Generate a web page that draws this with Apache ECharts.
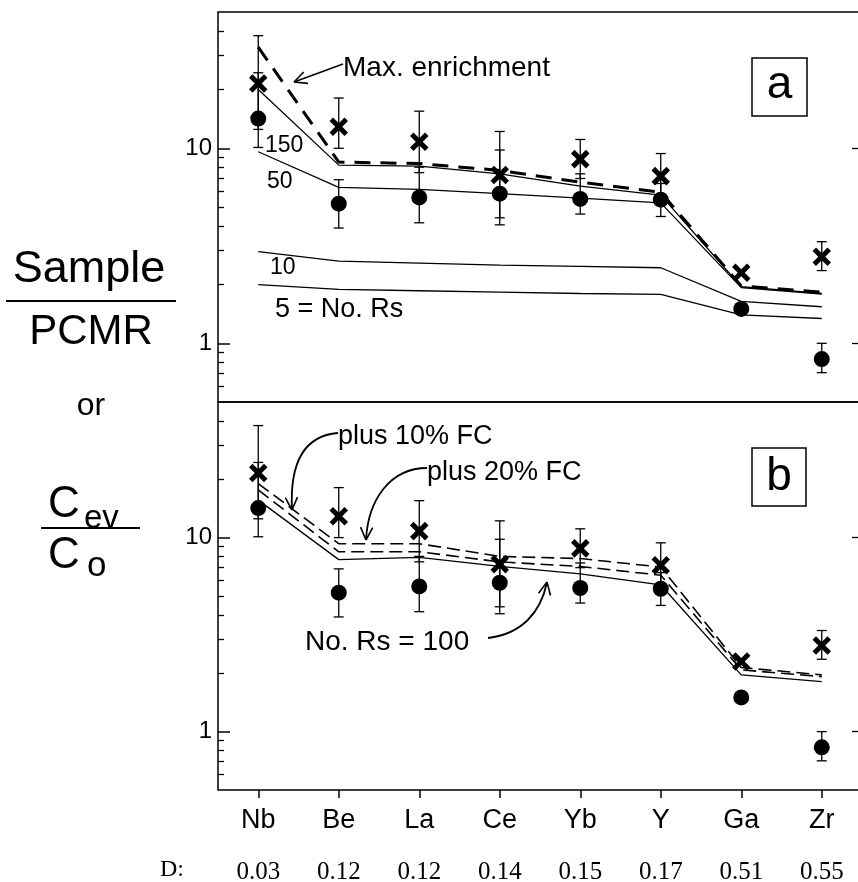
<!DOCTYPE html>
<html><head><meta charset="utf-8">
<script src="https://cdn.jsdelivr.net/npm/echarts@6/dist/echarts.min.js"></script>
<style>html,body{margin:0;padding:0;background:#fff}#c{width:858px;height:882px}</style>
</head><body><div id="c"></div>
<script>
// ---------- data ----------
const categories = ['Nb','Be','La','Ce','Yb','Y','Ga','Zr'];
const dValues = ['0.03','0.12','0.12','0.14','0.15','0.17','0.51','0.55'];
const majorTicks = [1, 10];
const minorTicks = [0.6,0.7,0.8,0.9,2,3,4,5,6,7,8,9,20,30,40];

// sample points (same in both panels)
const crossVals = [21.5, 12.9, 10.8, 7.3, 8.8, 7.2, 2.3, 2.78];
const crossLow  = [12.5, 10.0, 7.5, 4.4, 7.0, 5.5, 0, 2.36];
const crossHigh = [37.8, 18.1, 15.5, 12.2, 11.1, 9.4, 0, 3.32];
const dotVals   = [14.2, 5.2, 5.6, 5.85, 5.5, 5.45, 1.5, 0.83];
const dotLow    = [10.1, 3.9, 4.15, 4.05, 4.6, 4.47, 0, 0.707];
const dotHigh   = [24.4, 6.9, 8.0, 9.8, 7.4, 6.6, 0, 1.0];

// panel a model curves
const maxEnrich = [33, 8.5, 8.35, 7.7, 6.7, 5.95, 1.97, 1.83];
const rs150 = [20, 8.2, 8.1, 7.4, 6.4, 5.75, 1.95, 1.80];
const rs50  = [9.6, 6.3, 6.15, 5.85, 5.55, 5.25, 1.93, 1.79];
const rs10  = [2.95, 2.64, 2.58, 2.52, 2.48, 2.44, 1.64, 1.54];
const rs5   = [2.0, 1.89, 1.86, 1.83, 1.80, 1.78, 1.40, 1.34];

// panel b model curves
const rs100 = [15.6, 7.7, 7.9, 7.1, 6.5, 5.7, 1.96, 1.81];
const fc10  = [17.6, 8.45, 8.45, 7.5, 7.1, 6.4, 2.08, 1.92];
const fc20  = [19.0, 9.3, 9.3, 8.0, 7.8, 7.05, 2.14, 1.96];

// ---------- chart ----------
const SANS = 'Liberation Sans';
const chart = echarts.init(document.getElementById('c'));

function yAxes(gridIndex) {
  const base = {type:'log', logBase:10, min:0.5, max:50, gridIndex,
    splitLine:{show:false}, axisLine:{show:false}};
  return [
    Object.assign({}, base, {position:'left',
      axisTick:{show:true, inside:true, length:12, customValues:majorTicks, lineStyle:{color:'#000', width:1.5}},
      axisLabel:{show:true, customValues:majorTicks, formatter:v=>String(Math.round(v)),
        fontSize:24, color:'#000', margin:6, fontFamily:SANS}}),
    Object.assign({}, base, {position:'left',
      axisTick:{show:true, inside:true, length:6, customValues:minorTicks, lineStyle:{color:'#000', width:1.3}},
      axisLabel:{show:false}}),
    Object.assign({}, base, {position:'right',
      axisTick:{show:true, inside:true, length:10, customValues:majorTicks, lineStyle:{color:'#000', width:1.3}},
      axisLabel:{show:false}})
  ];
}

function pointSeries(kind, vals, lows, highs, xi, yi) {
  return {
    type:'custom', xAxisIndex:xi, yAxisIndex:yi, z:kind==='dot'?5:6,
    data: vals.map((v,i)=>[i, v, lows[i], highs[i]]),
    encode:{x:0, y:1},
    renderItem:function(params, api){
      const i = api.value(0), v = api.value(1), lo = api.value(2), hi = api.value(3);
      const p = api.coord([i, v]);
      const st = {stroke:'#000', lineWidth:1.3};
      const ch = [], cw = 5;
      [hi, lo].forEach(b=>{
        if (b > 0) {
          const pb = api.coord([i, b]);
          ch.push({type:'line', shape:{x1:p[0], y1:p[1], x2:p[0], y2:pb[1]}, style:st});
          ch.push({type:'line', shape:{x1:p[0]-cw, y1:pb[1], x2:p[0]+cw, y2:pb[1]}, style:st});
        }
      });
      if (kind === 'dot') {
        ch.push({type:'circle', shape:{cx:p[0], cy:p[1], r:8}, style:{fill:'#000'}});
      } else {
        const s = 7.5;
        const xs = {stroke:'#000', lineWidth:5};
        ch.push({type:'line', shape:{x1:p[0]-s, y1:p[1]-s, x2:p[0]+s, y2:p[1]+s}, style:xs});
        ch.push({type:'line', shape:{x1:p[0]-s, y1:p[1]+s, x2:p[0]+s, y2:p[1]-s}, style:xs});
      }
      return {type:'group', children:ch};
    }
  };
}

function lineSeries(data, xi, yi, width, dash) {
  return {type:'line', data, xAxisIndex:xi, yAxisIndex:yi, symbol:'none', z:3,
    lineStyle:{color:'#000', width, type: dash || 'solid'}};
}

// arrow helpers (annotation layout)
function headLines(tx, ty, dx, dy, len) {
  const L = Math.hypot(dx, dy); dx/=L; dy/=L;
  const a = 0.45, out = [];
  [a, -a].forEach(t=>{
    const c = Math.cos(t), s = Math.sin(t);
    const rx = -(dx*c - dy*s), ry = -(dx*s + dy*c);
    out.push({type:'line', shape:{x1:tx, y1:ty, x2:tx+rx*len, y2:ty+ry*len}, style:{stroke:'#000', lineWidth:1.6}});
  });
  return out;
}
function curveArrow(x1,y1,c1x,c1y,c2x,c2y,x2,y2) {
  return [{type:'bezierCurve', shape:{x1, y1, cpx1:c1x, cpy1:c1y, cpx2:c2x, cpy2:c2y, x2, y2},
    style:{stroke:'#000', lineWidth:1.8, fill:null}}].concat(headLines(x2, y2, x2-c2x, y2-c2y, 14));
}
function txt(x, y, t, size, extra) {
  return Object.assign({type:'text', x, y, style:Object.assign({text:t, font:size+'px "'+SANS+'"',
    fill:'#000', textVerticalAlign:'middle', textAlign:'left'}, extra||{})});
}

const graphics = [
  // left title
  txt(89, 270, 'Sample', 45, {textAlign:'center'}),
  {type:'line', shape:{x1:6, y1:301, x2:176, y2:301}, style:{stroke:'#000', lineWidth:2}},
  txt(91, 332, 'PCMR', 42, {textAlign:'center'}),
  txt(91, 406, 'or', 32, {textAlign:'center'}),
  txt(48, 505, 'C', 44),
  txt(84, 519, 'ev', 33),
  {type:'line', shape:{x1:41, y1:528, x2:140, y2:528}, style:{stroke:'#000', lineWidth:2}},
  txt(48, 556, 'C', 44),
  txt(87, 566, 'o', 35),
  // D row label
  txt(160, 870, 'D:', 24, {font:'24px "Liberation Serif"'}),
  // panel a annotations
  txt(343, 68, 'Max. enrichment', 28),
  {type:'line', shape:{x1:343, y1:64, x2:294, y2:82}, style:{stroke:'#000', lineWidth:1.8}},
  ...headLines(294, 82, -49, 18, 14),
  txt(265, 146, '150', 23),
  txt(267, 182, '50', 23),
  txt(270, 268, '10', 23),
  txt(275, 310, '5 = No. Rs', 27),
  {type:'rect', shape:{x:752, y:58, width:55, height:58}, style:{stroke:'#000', lineWidth:1.5, fill:'#fff'}},
  txt(779.5, 85, 'a', 46, {textAlign:'center'}),
  // panel b annotations
  txt(338, 437, 'plus 10% FC', 27),
  ...curveArrow(338, 433, 300, 436, 290, 470, 292, 510),
  txt(427, 473, 'plus 20% FC', 27),
  ...curveArrow(427, 468, 390, 468, 368, 500, 366, 540),
  txt(305, 642, 'No. Rs = 100', 28),
  ...curveArrow(488, 638, 522, 634, 541, 612, 547, 582),
  {type:'rect', shape:{x:752, y:448, width:54, height:58}, style:{stroke:'#000', lineWidth:1.5, fill:'#fff'}},
  txt(779, 477, 'b', 46, {textAlign:'center'})
];

const option = {
  backgroundColor:'#fff',
  animation:false,
  grid:[
    {left:218, top:12, width:644, height:390, show:true, borderColor:'#000', borderWidth:1.5,
      backgroundColor:'transparent', outerBoundsMode:'none', containLabel:false},
    {left:218, top:402, width:644, height:388, show:true, borderColor:'#000', borderWidth:1.5,
      backgroundColor:'transparent', outerBoundsMode:'none', containLabel:false}
  ],
  xAxis:[
    {type:'category', data:categories, gridIndex:0, boundaryGap:true,
      axisLine:{show:false}, axisTick:{show:false}, axisLabel:{show:false}},
    {type:'category', data:categories, gridIndex:1, boundaryGap:true,
      axisLine:{show:false},
      axisTick:{show:true, alignWithLabel:true, length:8, lineStyle:{color:'#000', width:1.5}},
      axisLabel:{interval:0, fontSize:27, color:'#000', margin:17, fontFamily:SANS}},
    {type:'category', data:categories, gridIndex:1, boundaryGap:true, position:'bottom', offset:62,
      axisLine:{show:false}, axisTick:{show:false},
      axisLabel:{interval:0, formatter:(v,i)=>dValues[i], fontSize:25, color:'#000', margin:8, fontFamily:'Liberation Serif'}}
  ],
  yAxis: yAxes(0).concat(yAxes(1)),
  series:[
    lineSeries(maxEnrich, 0, 0, 3, [16, 10]),
    lineSeries(rs150, 0, 0, 1.3),
    lineSeries(rs50, 0, 0, 1.3),
    lineSeries(rs10, 0, 0, 1.3),
    lineSeries(rs5, 0, 0, 1.3),
    pointSeries('dot', dotVals, dotLow, dotHigh, 0, 0),
    pointSeries('cross', crossVals, crossLow, crossHigh, 0, 0),
    lineSeries(rs100, 1, 3, 1.3),
    lineSeries(fc10, 1, 3, 1.6, [13, 6]),
    lineSeries(fc20, 1, 3, 1.6, [13, 6]),
    pointSeries('dot', dotVals, dotLow, dotHigh, 1, 3),
    pointSeries('cross', crossVals, crossLow, crossHigh, 1, 3)
  ],
  graphic: graphics
};
chart.setOption(option);
</script></body></html>
